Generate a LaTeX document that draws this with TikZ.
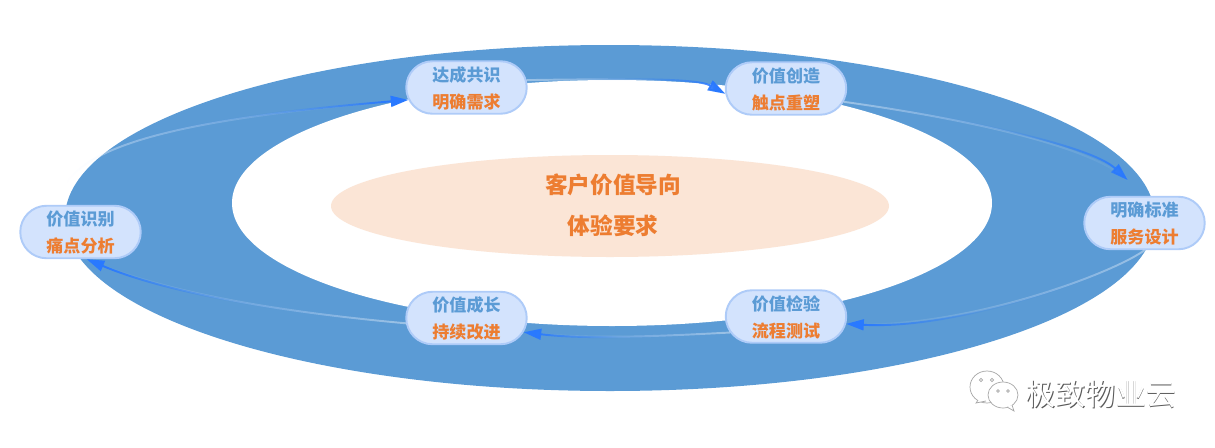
\documentclass[tikz,border=0pt]{standalone}
\usepackage{fontspec}
\usepackage{xcolor}
\usetikzlibrary{arrows.meta,shapes.misc,fadings}
\newfontfamily\cjk{Noto Sans CJK SC}
\definecolor{ringBlue}{RGB}{91,155,213}
\definecolor{stageFill}{RGB}{211,227,253}
\definecolor{stageEdge}{RGB}{174,203,248}
\definecolor{flowBlue}{RGB}{41,121,255}
\definecolor{valOrange}{RGB}{237,125,49}
\definecolor{coreFill}{RGB}{251,229,214}
\pgfdeclarehorizontalshading{headright}{100bp}{color(0bp)=(black); color(25bp)=(black); color(52bp)=(black!88); color(67bp)=(black!35); color(72bp)=(white); color(100bp)=(white)}
\pgfdeclarehorizontalshading{headleft}{100bp}{color(0bp)=(white); color(28bp)=(white); color(33bp)=(black!35); color(48bp)=(black!88); color(75bp)=(black); color(100bp)=(black)}
\tikzfading[name=fadeleft, shading=headright]
\tikzfading[name=faderight, shading=headleft]
\tikzfading[name=tailright, left color=transparent!0, right color=transparent!100]
\tikzfading[name=tailleft, left color=transparent!100, right color=transparent!0]
\tikzset{
  stagebox/.style={rounded rectangle, draw=stageEdge, line width=1.1pt, fill=stageFill,
    minimum width=2.41cm, minimum height=1.05cm, inner sep=0pt, align=center, text depth=0pt,
    font=\cjk\bfseries\fontsize{9.7}{15.4}\selectfont},
  flowline/.style={draw=flowBlue, line width=1.1pt, -{Triangle[length=10pt,width=6.2pt]}},
  flowtail/.style={draw=white, opacity=0.4, line width=1.1pt},
  bubble/.style={draw=gray!70, fill=white, line width=0.4pt}
}
\newcommand{\flowarrow}[4][]{%
  \draw[flowtail, path fading=#3, #1] #4;
  \draw[flowline, path fading=#2, #1] #4;
}
\begin{document}
\begin{tikzpicture}[x=0.02cm, y=-0.02cm]
\useasboundingbox (0,0) rectangle (1215,447);
% ring and centre
\fill[ringBlue] (610,218) ellipse [x radius=545, y radius=173];
\fill[white] (612,203) ellipse [x radius=380, y radius=123];
\fill[coreFill] (610,206) ellipse [x radius=279, y radius=51];
\node[text=valOrange, font=\cjk\bfseries\fontsize{12.9}{23.3}\selectfont, align=center] (core) at (613,205) {客户价值导向\\体验要求};
% stages
\foreach \name/\x/\y/\top/\sub in {shibie/80.5/232/价值识别/痛点分析, gongshi/466.5/87.5/达成共识/明确需求, chuangzao/786/88.5/价值创造/触点重塑, biaozhun/1144.5/223/明确标准/服务设计, jianyan/786/316.5/价值检验/流程测试, chengzhang/466.5/318/价值成长/持续改进}{
  \node[stagebox] (\name) at (\x,\y) {\textcolor{ringBlue}{\top}\\\textcolor{valOrange}{\sub}};
}
% flow
\coordinate (shibietail) at (65,185);
\flowarrow{fadeleft}{tailright}{(shibietail) .. controls (95,135) and (230,115) .. (gongshi.192)}
\flowarrow{fadeleft}{tailright}{(gongshi.7) .. controls (600,79) and (695,77) .. (chuangzao.185)}
\flowarrow[shorten >=0.46cm]{fadeleft}{tailright}{(chuangzao.-13) .. controls (960,118) and (1090,145) .. (biaozhun.north)}
\flowarrow{faderight}{tailleft}{(biaozhun.south) .. controls (1110,275) and (960,330) .. (jianyan.-7)}
\flowarrow{faderight}{tailleft}{(jianyan.196) .. controls (660,336) and (590,340) .. (chengzhang.-14)}
\flowarrow{faderight}{tailleft}{(chengzhang.185) .. controls (260,310) and (160,290) .. (shibie.-77)}
% mark
\draw[bubble] (987,387) ellipse [x radius=17, y radius=16];
\draw[bubble] (978,400) -- (976,403) -- (986,401);
\draw[bubble] (1003,395) ellipse [x radius=15, y radius=13];
\draw[bubble] (1007,407) -- (1014,411) -- (1012,405);
\foreach \x/\y/\r in {981/380/1.6, 992/380/1.6, 998/391/1.3, 1008/391/1.3}{
  \draw[gray!70, line width=0.4pt] (\x,\y) circle [radius=\r];
}
\node[text=black!65, font=\cjk\fontsize{17.1}{20}\selectfont] (markshade) at (1101.8,394.8) {极致物业云};
\node[text=white, font=\cjk\fontsize{17.1}{20}\selectfont] (mark) at (1101,394) {极致物业云};
\end{tikzpicture}
\end{document}
